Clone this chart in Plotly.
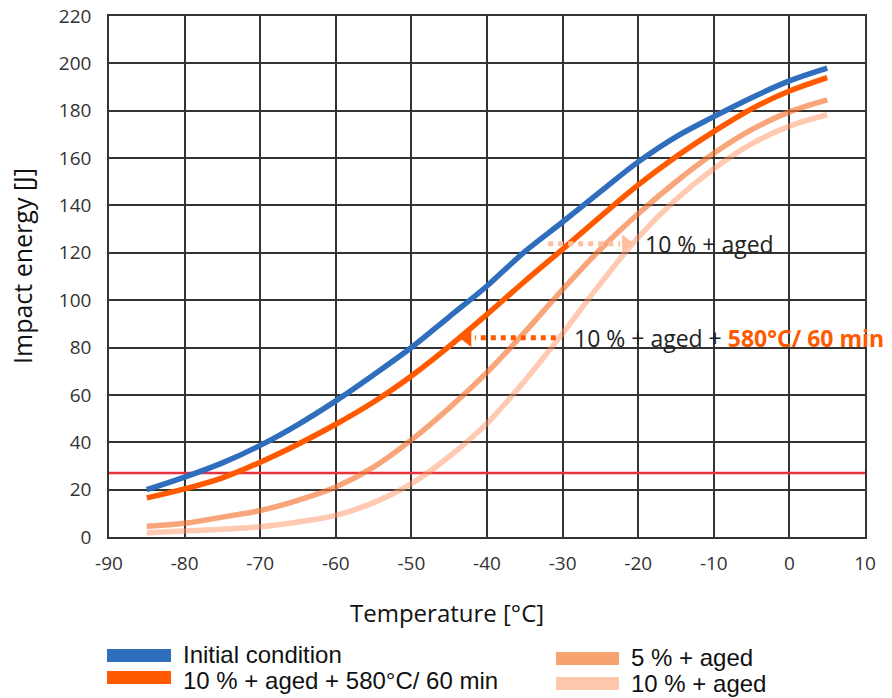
import plotly.graph_objects as go

# ---------------- data ----------------
temps = [-85, -80, -75, -70, -65, -60, -55, -50, -45, -40, -35, -30, -25, -20, -15, -10, -5, 0, 5]
initial = [20, 25.3, 31.3, 38.7, 47.5, 57.5, 68.5, 80, 93, 106, 120.5, 133, 145.8, 158.4, 169, 177.5, 185.5, 192.6, 198]
aged10_580 = [16.5, 20.3, 25, 31.6, 39.2, 47.6, 57, 68, 80.5, 94, 108, 121.5, 135.3, 148.7, 160.6, 171.2, 180.8, 188.3, 194]
aged5 = [4.5, 5.8, 8.4, 11.2, 15.5, 21.1, 29.5, 41, 54.5, 69.5, 86.5, 104.5, 121.5, 136.5, 150, 162, 172, 179.5, 184.6]
aged10 = [1.8, 2.5, 3.3, 4.3, 6.3, 9.1, 14.5, 22.5, 34, 48, 66, 86, 107, 126.5, 142.5, 155.5, 166, 173.5, 178.3]

threshold_T = [-90, 10]
threshold_E = [27, 27]

series_names = ["Initial condition", "10 % + aged + 580°C/ 60 min", "5 % + aged", "10 % + aged"]

# annotation arrows (temperature, energy)
arrow_aged_T = [-31.9, -22.4]      # dotted part
arrow_aged_head = (-21.6, 123.8)
arrow_aged_E = 123.8
arrow_heat_T = [-30.9, -41.6]
arrow_heat_head = (-42.6, 84.1)
arrow_heat_E = 84.1

x_ticks = [-90, -80, -70, -60, -50, -40, -30, -20, -10, 0, 10]
x_ticktext = ["-90", "-80", "-70", "-60", "-50", "-40", "-30", "-20", "-10", "0", "10"]
y_ticks = [0, 20, 40, 60, 80, 100, 120, 140, 160, 180, 200, 220]
y_ticktext = [str(v) for v in y_ticks]

# ---------------- style ----------------
C_BLUE = "#2E6EBC"
C_ORANGE = "#FF5A00"
C_5 = "rgba(244,118,52,0.66)"
C_10 = "rgba(255,150,100,0.5)"
C_5_LEG = "#F8A26F"
C_10_LEG = "#FFC8AC"
C_RED = "#E8323C"
GRID = "#333333"
TICKFONT = dict(family="Open Sans, Noto Sans, sans-serif", size=19, color="#333333")
LEGFONT = dict(family="Liberation Sans, Arial, sans-serif", size=24, color="#111111")

fig = go.Figure()

fig.add_trace(go.Scatter(x=threshold_T, y=threshold_E, mode="lines",
                         line=dict(color=C_RED, width=2.5), showlegend=False, hoverinfo="skip"))

for vals, col, name in [(aged10, C_10, series_names[3]), (aged5, C_5, series_names[2]),
                        (aged10_580, C_ORANGE, series_names[1]), (initial, C_BLUE, series_names[0])]:
    fig.add_trace(go.Scatter(x=temps, y=vals, mode="lines", name=name,
                             line=dict(color=col, width=5.5, shape="spline", smoothing=1.0),
                             showlegend=False))

# dotted arrows
fig.add_trace(go.Scatter(x=arrow_aged_T, y=[arrow_aged_E] * 2, mode="lines",
                         line=dict(color="#FFBE9E", width=5, dash="dot"), showlegend=False, hoverinfo="skip"))
fig.add_trace(go.Scatter(x=[arrow_aged_head[0]], y=[arrow_aged_head[1]], mode="markers",
                         marker=dict(symbol="triangle-right", size=16, color="#FFBE9E"),
                         showlegend=False, hoverinfo="skip"))
fig.add_trace(go.Scatter(x=arrow_heat_T, y=[arrow_heat_E] * 2, mode="lines",
                         line=dict(color=C_ORANGE, width=5, dash="dot"), showlegend=False, hoverinfo="skip"))
fig.add_trace(go.Scatter(x=[arrow_heat_head[0]], y=[arrow_heat_head[1]], mode="markers",
                         marker=dict(symbol="triangle-left", size=16, color=C_ORANGE),
                         showlegend=False, hoverinfo="skip"))

# geometry helpers (paper coordinates)
L, R, T, B = 109, 27, 16, 161
W, H = 892, 698
PW, PH = W - L - R, H - T - B


def px(x):
    return (x - L) / PW


def py(y):
    return (H - B - y) / PH


heat_text = "10 % + aged + <b><span style='color:" + C_ORANGE + "'>580°C/ 60 min</span></b>"
ANNFONT = dict(family="Open Sans, sans-serif", size=23, color="#222222")

annots = [
    dict(x=-19.3, y=arrow_aged_E, xref="x", yref="y", text="10 % + aged", showarrow=False,
         xanchor="left", yanchor="middle", font=ANNFONT),
    dict(x=-28.7, y=arrow_heat_E, xref="x", yref="y", text=heat_text,
         showarrow=False, xanchor="left", yanchor="middle", font=ANNFONT),
    dict(x=px(446.5), y=py(612), xref="paper", yref="paper", text="Temperature [°C]", showarrow=False,
         xanchor="center", yanchor="middle", font=dict(family="Open Sans, sans-serif", size=24, color="#111111")),
    dict(x=px(22), y=py(266), xref="paper", yref="paper", text="Impact energy [J]", showarrow=False,
         textangle=-90, xanchor="center", yanchor="middle",
         font=dict(family="Open Sans, sans-serif", size=25, color="#111111")),
]

# manual legend
legend_items = [
    (series_names[0], C_BLUE, 107, 171, 655.5, 181, 654),
    (series_names[1], C_ORANGE, 107, 171, 677.5, 181, 680),
    (series_names[2], C_5_LEG, 556, 619, 658.5, 629, 657),
    (series_names[3], C_10_LEG, 556, 619, 683.5, 629, 683),
]
shapes = []
for name, col, x0, x1, yc, tx, ty in legend_items:
    shapes.append(dict(type="rect", xref="paper", yref="paper", x0=px(x0), x1=px(x1),
                       y0=py(yc + 6.5), y1=py(yc - 6.5), fillcolor=col, line=dict(width=0)))
    annots.append(dict(x=px(tx), y=py(ty), xref="paper", yref="paper", text=name, showarrow=False,
                       xanchor="left", yanchor="middle", font=LEGFONT))

axis_common = dict(showgrid=True, gridcolor=GRID, gridwidth=1.5, zeroline=False,
                   showline=True, linecolor=GRID, linewidth=1.5, mirror=True,
                   ticks="", tickfont=TICKFONT, automargin=False)

fig.update_layout(
    width=W, height=H,
    margin=dict(l=L, r=R, t=T, b=B),
    paper_bgcolor="white", plot_bgcolor="white",
    xaxis=dict(range=[-90, 10], tickvals=x_ticks, ticktext=x_ticktext, ticklabelstandoff=8, **axis_common),
    yaxis=dict(range=[0, 220], tickvals=y_ticks, ticktext=y_ticktext, ticklabelstandoff=12, **axis_common),
    annotations=annots,
    shapes=shapes,
    showlegend=False,
)

fig.write_html("out.html",
               config={"displayModeBar": False},
               post_script="document.body.style.margin='0';document.body.style.overflow='hidden';")
